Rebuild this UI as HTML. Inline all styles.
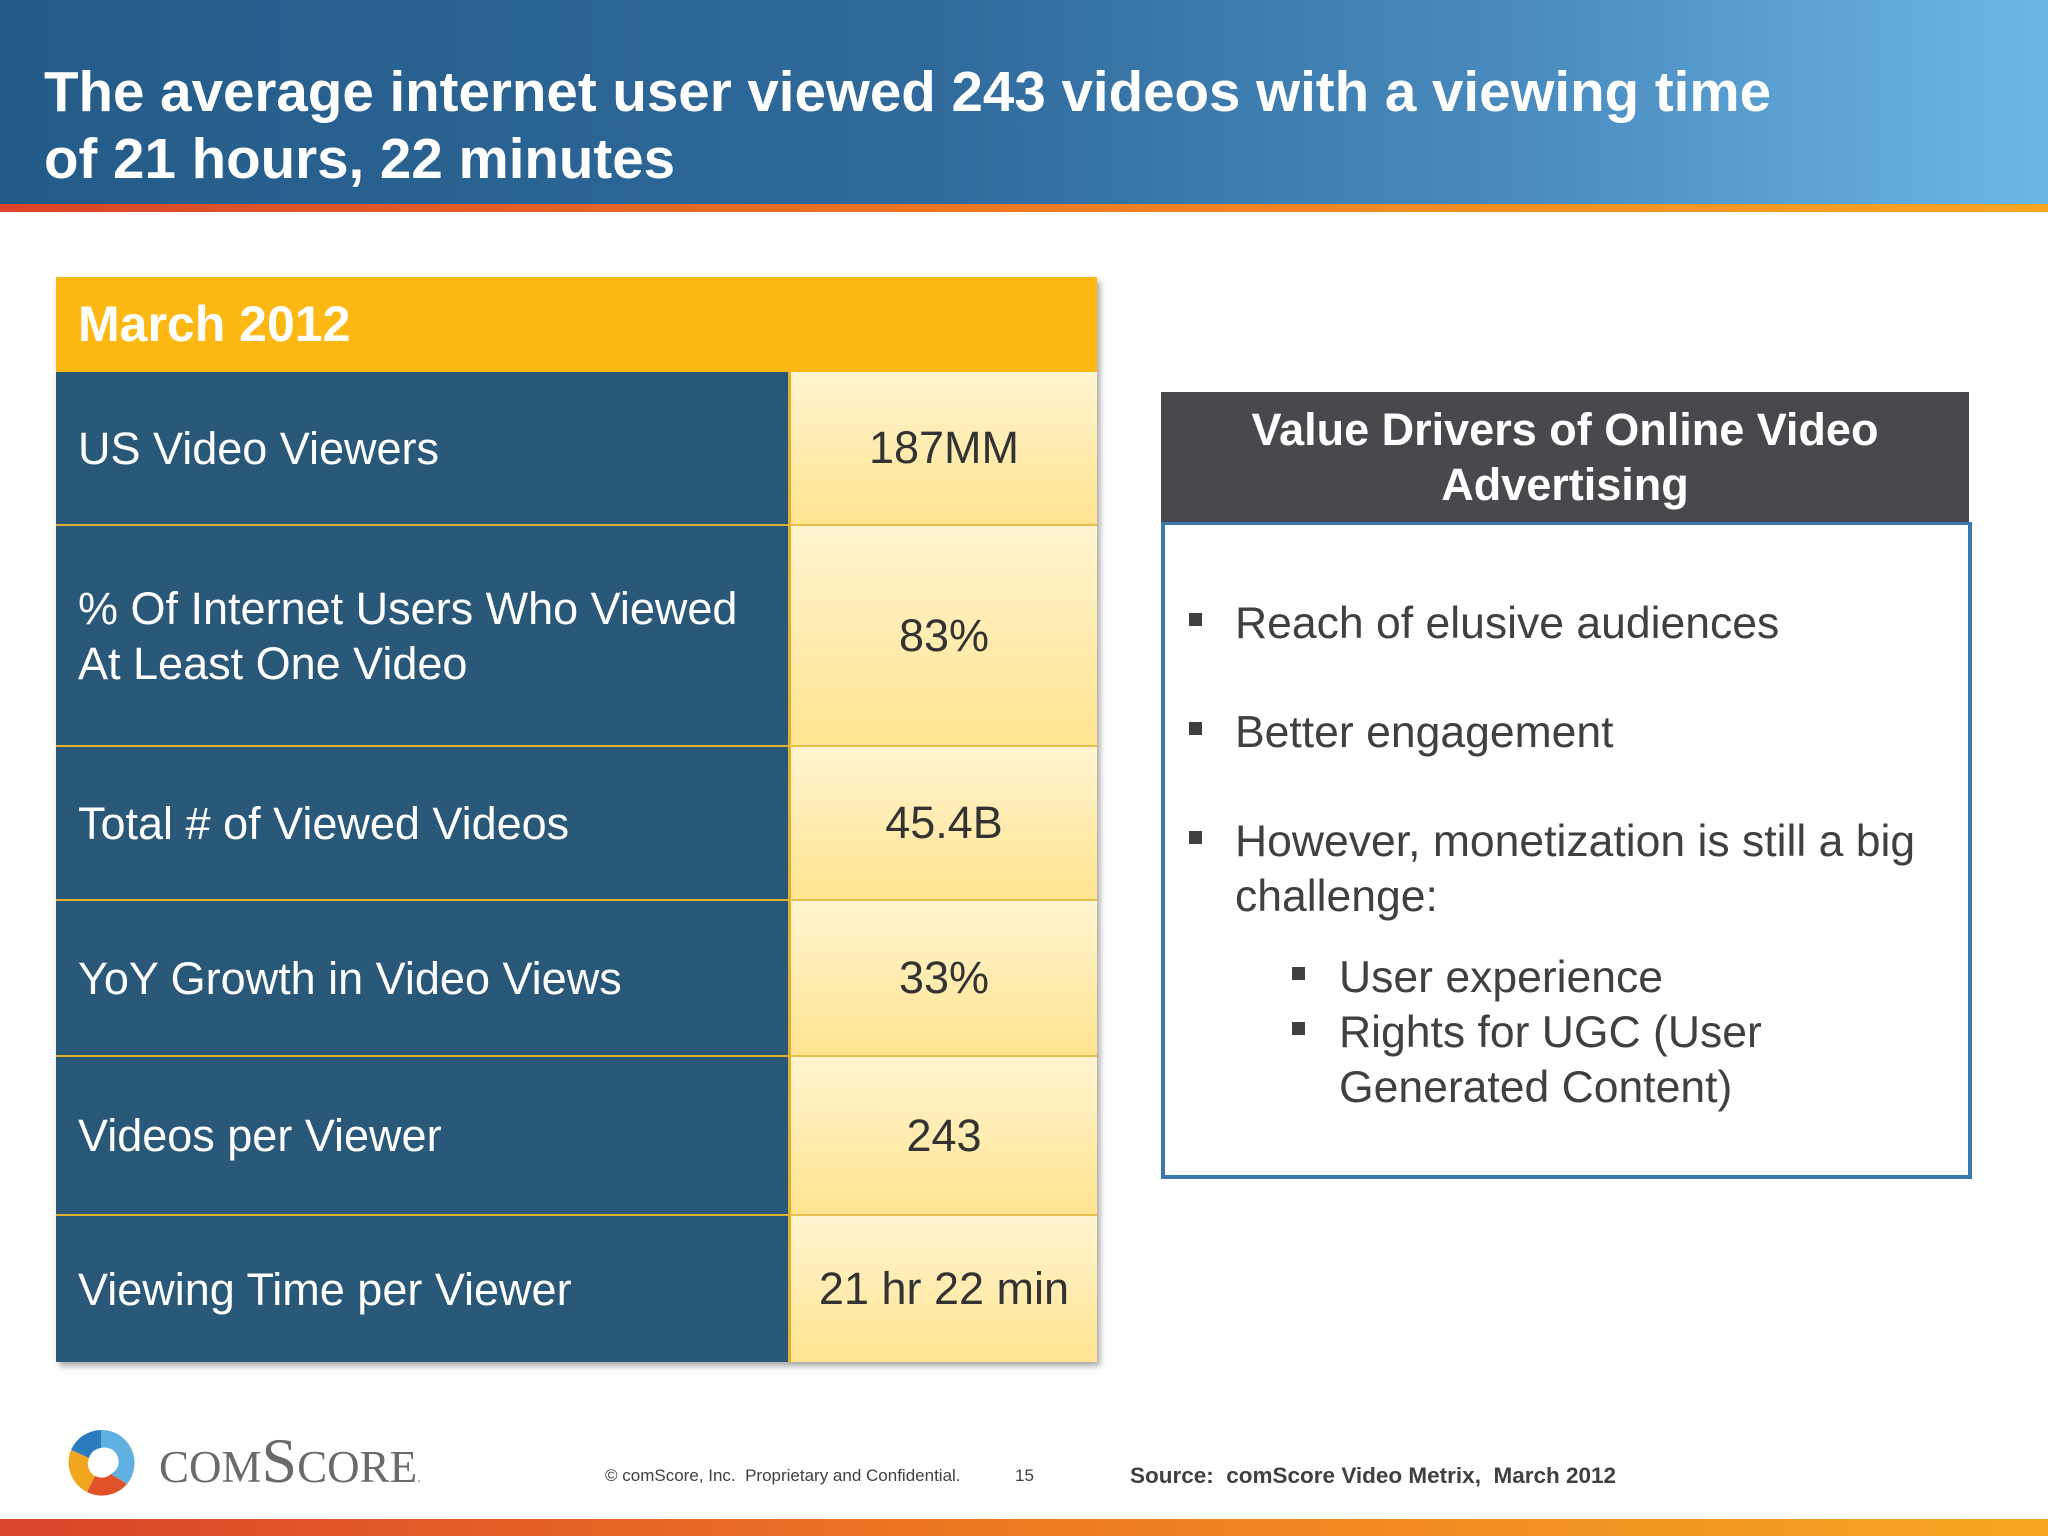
<!DOCTYPE html>
<html><head><meta charset="utf-8"><style>
*{margin:0;padding:0;box-sizing:border-box}
body{width:2048px;height:1536px;position:relative;background:#fff;font-family:"Liberation Sans",sans-serif;overflow:hidden}
.abs{position:absolute}
#hdr{left:0;top:0;width:2048px;height:206px;background:linear-gradient(90deg,#245b88 0%,#2f6a9b 45%,#4a8cc0 75%,#6cb6e4 100%)}
#hline{left:0;top:204px;width:2048px;height:8px;background:linear-gradient(90deg,#d9442a,#ee7a22 50%,#f6a623)}
#title{left:44px;top:58px;color:#fff;font-weight:bold;font-size:56.5px;line-height:67px}
#tbl{left:56px;top:277px;width:1041px;height:1085px;box-shadow:3px 4px 6px rgba(0,0,0,.35)}
#th{left:0;top:0;width:1041px;height:95px;background:#fdb813;color:#fff;font-weight:bold;font-size:50px;padding-left:22px;line-height:95px}
.lc{left:0;width:732px;background:#2a5878;color:#fff;font-size:45px;padding-left:22px;display:flex;align-items:center;line-height:55px;border-bottom:2px solid #e0b030}
.rc{left:732px;width:309px;background:linear-gradient(180deg,#fff4d0,#ffe490);color:#333;font-size:45px;display:flex;align-items:center;justify-content:center;border-bottom:2px solid #e8c050;border-left:3px solid #e0b030}
#vdh{left:1161px;top:392px;width:808px;height:130px;background:#4a484c;color:#fff;font-weight:bold;font-size:45px;text-align:center;line-height:55px;padding-top:10px}
#vdb{left:1161px;top:522px;width:811px;height:657px;border:4px solid #3a78b0;border-top:3px solid #3a78b0}
.b{color:#404040;font-size:44.5px;line-height:55px}
.sq{width:13px;height:13px;background:#404040}
</style></head><body>
<div id="hdr" class="abs"></div>
<div id="hline" class="abs"></div>
<div id="title" class="abs">The average internet user viewed 243 videos with a viewing time<br>of 21 hours, 22 minutes</div>

<div id="tbl" class="abs">
<div id="th" class="abs">March 2012</div>
<div class="abs lc" style="top:95px;height:154px">US Video Viewers</div>
<div class="abs rc" style="top:95px;height:154px">187MM</div>
<div class="abs lc" style="top:249px;height:221px">% Of Internet Users Who Viewed<br>At Least One Video</div>
<div class="abs rc" style="top:249px;height:221px">83%</div>
<div class="abs lc" style="top:470px;height:154px">Total # of Viewed Videos</div>
<div class="abs rc" style="top:470px;height:154px">45.4B</div>
<div class="abs lc" style="top:624px;height:156px">YoY Growth in Video Views</div>
<div class="abs rc" style="top:624px;height:156px">33%</div>
<div class="abs lc" style="top:780px;height:159px">Videos per Viewer</div>
<div class="abs rc" style="top:780px;height:159px">243</div>
<div class="abs lc" style="top:939px;height:146px;border-bottom:none">Viewing Time per Viewer</div>
<div class="abs rc" style="top:939px;height:146px;border-bottom:none">21 hr 22 min</div>
</div>

<div id="vdh" class="abs">Value Drivers of Online Video<br>Advertising</div>
<div id="vdb" class="abs"></div>
<div class="abs sq" style="left:1189px;top:613px"></div>
<div class="abs b" style="left:1235px;top:596px">Reach of elusive audiences</div>
<div class="abs sq" style="left:1189px;top:722px"></div>
<div class="abs b" style="left:1235px;top:705px">Better engagement</div>
<div class="abs sq" style="left:1189px;top:831px"></div>
<div class="abs b" style="left:1235px;top:814px">However, monetization is still a big<br>challenge:</div>
<div class="abs sq" style="left:1292px;top:967px"></div>
<div class="abs b" style="left:1339px;top:950px">User experience</div>
<div class="abs sq" style="left:1292px;top:1022px"></div>
<div class="abs b" style="left:1339px;top:1005px">Rights for UGC (User<br>Generated Content)</div>

<svg class="abs" style="left:67px;top:1428px" width="68" height="70" viewBox="0 0 68 70">
<path d="M34 2 A33 33 0 0 0 4 22 L22 30 A14 14 0 0 1 34 20Z" fill="#2b7bbf"/>
<path d="M4 22 A33 33 0 0 0 20 64 L28 48 A14 14 0 0 1 22 30Z" fill="#f2a51f"/>
<path d="M20 64 A33 33 0 0 0 60 56 L44 46 A14 14 0 0 1 28 48Z" fill="#e2522a"/>
<path d="M34 2 A33 33 0 0 1 60 56 L44 46 A14 14 0 0 0 34 20Z" fill="#5fb0e0"/>
</svg>
<div class="abs" style="left:159px;top:1424px;font-family:'Liberation Serif',serif;font-size:64px;color:#6a6a6a;font-variant:small-caps;letter-spacing:0px">comScore<span style="font-size:14px">.</span></div>
<div class="abs" style="left:605px;top:1466px;font-size:17px;color:#404040">© comScore, Inc.&nbsp; Proprietary and Confidential.</div>
<div class="abs" style="left:1015px;top:1466px;font-size:17px;color:#404040">15</div>
<div class="abs" style="left:1130px;top:1463px;font-size:22.5px;font-weight:bold;color:#404040">Source:&nbsp; comScore Video Metrix,&nbsp; March 2012</div>
<div class="abs" style="left:0;top:1519px;width:2048px;height:17px;background:linear-gradient(90deg,#d9442a,#ee7a22 50%,#f6a623)"></div>
</body></html>
